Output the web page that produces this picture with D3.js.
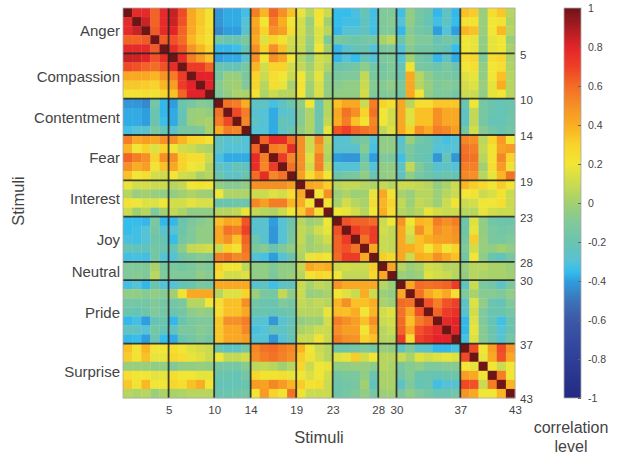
<!DOCTYPE html>
<html>
<head>
<meta charset="utf-8">
<style>
    body { margin: 0; background: #fff; }
    text { font-family: "Liberation Sans", Arial, sans-serif; fill: #444; }
    .domain { display: none; }
</style>
<script src="https://cdn.jsdelivr.net/npm/d3@7"></script>
</head>
<body>
<div id="chart"></div>
<script>
const groupNames = ['Anger', 'Compassion', 'Contentment', 'Fear', 'Interest', 'Joy', 'Neutral', 'Pride', 'Surprise'];
const groupEnds = [5, 10, 14, 19, 23, 28, 30, 37, 43];
const barTicks = [-1, -0.8, -0.6, -0.4, -0.2, 0, 0.2, 0.4, 0.6, 0.8, 1];
const colorDomain = [-1, -0.8, -0.6, -0.5, -0.4, -0.35, -0.3, -0.2, -0.1, 0, 0.1, 0.2, 0.3, 0.4, 0.5, 0.6, 0.7, 0.8, 0.9, 1];
const colorRange = ['#232a80', '#2f3f99', '#3c58a7', '#3c74b9', '#2f9ede', '#35bdec', '#56c2d6', '#6ac4ae', '#80c99a', '#a2d070', '#cbdb50', '#f1e634', '#f8d32c', '#f9ae21', '#f58f27', '#f36c26', '#ee3f26', '#e3242a', '#a81c22', '#6e1418'];

// upper triangle, correlation x 100, one row per stimulus
const corrRows = [
    [100,78,78,62,78,85,68,42,33,22,-42,-38,-38,-33,55,38,62,50,35,18,5,22,10,-35,-35,-32,-22,-33,-10,-10,-33,-5,-15,-20,-36,-25,-36,35,32,-3,25,33,5],
    [100,84,62,78,84,66,42,33,22,-42,-38,-38,-30,42,20,55,40,20,12,-3,20,0,-35,-33,-33,-24,-32,-10,-8,-30,-5,-15,-22,-33,-25,-35,22,22,-3,20,22,3],
    [100,64,78,80,62,42,32,24,-45,-40,-40,-28,45,30,50,45,25,12,0,15,5,-36,-30,-30,-24,-33,-10,-10,-36,-8,-15,-18,-40,-30,-40,38,35,-3,20,37,5],
    [100,64,66,60,38,30,22,-15,-20,-20,-12,42,15,30,22,12,10,-3,15,-10,-12,-15,-18,-16,-15,2,6,-20,-5,-10,-10,-22,-15,-20,20,18,-5,17,20,-2],
    [100,76,66,48,38,29,-36,-36,-34,-22,50,30,50,35,10,10,-5,20,0,-36,-28,-22,-20,-30,-12,-10,-30,-8,-15,-15,-20,-22,-35,20,18,-5,17,20,2],
    [100,76,55,45,35,-40,-38,-38,-28,50,20,50,42,20,5,-5,12,8,-36,-30,-35,-22,-30,-12,-10,-30,0,-15,-20,-36,-25,-38,25,28,-10,25,28,2],
    [100,72,72,62,-20,-22,-22,-14,38,12,30,30,12,8,0,12,3,-20,-18,-15,-6,-16,-15,-10,-22,22,-12,-15,-20,-12,-20,20,25,-5,20,25,3],
    [100,80,80,-14,-3,-3,-12,30,10,25,20,10,20,3,17,-5,-12,-10,-10,8,-12,-12,-10,-20,42,5,-6,-12,-12,-15,15,18,-5,20,35,5],
    [100,80,-8,-2,0,-10,28,5,25,18,2,22,0,14,-5,-8,-5,-5,10,-8,-8,-5,-12,42,5,-3,-10,-8,-10,12,15,-3,17,40,5],
    [100,-10,-4,2,2,22,3,10,5,5,20,-2,14,-5,-5,-5,-5,12,-10,-10,-8,-15,42,20,-5,-10,-10,-15,10,10,-5,17,20,5],
    [100,58,55,40,-25,-25,-32,-25,-18,-5,20,-20,5,35,42,42,10,55,30,25,42,5,25,25,33,33,33,-20,20,-14,-20,-22,-20],
    [100,68,55,-28,-30,-38,-28,-26,-8,3,-20,5,42,58,50,30,58,20,12,42,15,35,35,50,42,42,-25,8,-14,-20,-22,-20],
    [100,52,-26,-30,-38,-22,-26,-8,3,-18,8,40,55,35,22,52,20,12,42,15,35,35,50,42,42,-25,8,-14,-22,-22,-18],
    [100,-30,-30,-38,-25,-20,-5,3,-18,18,65,70,62,58,55,7,15,42,30,50,42,55,52,45,-15,12,-8,-15,-20,-15],
    [100,62,78,76,60,50,10,52,8,-28,-28,-18,-12,-30,-5,-5,-28,-2,-15,-20,-28,-32,-30,52,50,6,28,46,20],
    [100,55,52,76,50,10,45,5,-28,-28,-28,-8,-32,-5,-5,-25,-12,-20,-20,-30,-30,-30,58,55,8,22,44,46],
    [100,72,52,50,15,55,3,-40,-42,-42,-20,-40,-10,-12,-33,-14,-20,-22,-42,-22,-42,60,58,5,22,52,30],
    [100,58,50,12,55,10,-30,-30,-30,-10,-30,-5,-5,-26,8,-10,-20,-28,-26,-30,55,54,0,25,46,22],
    [100,45,25,38,20,-18,-15,-12,-5,-20,-5,-3,-24,-5,-14,-18,-22,-20,-22,52,50,5,18,38,58],
    [100,42,40,32,5,8,8,5,3,8,5,10,10,8,5,-4,2,10,38,32,28,20,32,22],
    [100,20,50,-2,3,-2,0,18,42,22,2,-3,5,5,-2,5,10,20,22,10,14,22,10],
    [100,22,2,12,5,2,25,38,28,8,-2,8,5,-2,10,22,10,12,20,20,25,10],
    [100,20,18,12,5,20,40,25,5,2,5,18,12,10,10,5,5,18,12,10,10],
    [100,66,62,62,60,10,20,48,20,38,36,55,50,55,-18,15,-5,-16,-18,-18],
    [100,72,66,72,12,8,42,15,50,35,50,45,50,-18,18,-4,-12,-16,-14],
    [100,58,72,10,8,42,10,35,40,45,45,48,-15,32,-3,-12,-14,-10],
    [100,42,10,8,42,40,35,20,35,20,30,-10,12,-3,-5,0,-5],
    [100,32,28,42,10,40,38,50,42,35,-16,20,-6,-20,-24,-14],
    [100,42,5,-2,2,12,10,5,5,-3,5,5,2,2,-2],
    [100,-2,-4,-2,15,12,10,5,-4,5,3,2,2,0],
    [100,42,60,58,60,62,72,-25,10,-12,-16,-26,-12],
    [100,58,42,35,42,25,-10,2,-8,-8,-10,-5],
    [100,66,55,66,70,-26,15,-5,-20,-22,-10],
    [100,62,72,75,-28,12,-10,-20,-20,-15],
    [100,78,80,-36,15,-10,-22,-33,-20],
    [100,80,-36,18,-8,-20,-30,-20],
    [100,-32,15,-8,-18,-28,-16],
    [100,68,20,45,68,48],
    [100,18,42,66,42],
    [100,20,10,20],
    [100,55,20],
    [100,38],
    [100]
];

const w = 618;
const h = 455;
const plot = { left: 123, right: 515, top: 8, bottom: 398 };
const n = corrRows.length;

const svg = d3.select('#chart')
    .append('svg')
    .attr('width', w)
    .attr('height', h);

const defs = svg.append('defs');

// the source picture is a little soft
defs.append('filter')
    .attr('id', 'soft')
    .attr('x', '-2%').attr('y', '-2%').attr('width', '104%').attr('height', '104%')
    .append('feGaussianBlur')
    .attr('stdDeviation', 0.45);

const color = d3.scaleLinear().domain(colorDomain).range(colorRange);
const xScale = d3.scaleLinear().domain([0, n]).range([plot.left, plot.right]);
const yScale = d3.scaleLinear().domain([0, n]).range([plot.top, plot.bottom]);

// mirror the triangle, the matrix is symmetric
const cells = [];
corrRows.forEach((row, i) => {
    row.forEach((v, k) => {
        cells.push({ i: i, j: i + k, v: v / 100 });
        if (k > 0) cells.push({ i: i + k, j: i, v: v / 100 });
    });
});

const heat = svg.append('g').attr('filter', 'url(#soft)');

heat.append('g')
    .selectAll('rect')
    .data(cells)
    .enter()
    .append('rect')
    .attr('x', d => xScale(d.j))
    .attr('y', d => yScale(d.i))
    .attr('width', d => xScale(d.j + 1) - xScale(d.j) + 0.3)
    .attr('height', d => yScale(d.i + 1) - yScale(d.i) + 0.3)
    .attr('fill', d => color(d.v));

// group separators
const seps = heat.append('g')
    .attr('stroke', '#222')
    .attr('stroke-opacity', 0.85)
    .attr('stroke-width', 1.8);

seps.selectAll('.v')
    .data(groupEnds.slice(0, -1))
    .enter()
    .append('line')
    .attr('x1', d => xScale(d))
    .attr('x2', d => xScale(d))
    .attr('y1', plot.top)
    .attr('y2', plot.bottom);

seps.selectAll('.h')
    .data(groupEnds.slice(0, -1))
    .enter()
    .append('line')
    .attr('x1', plot.left)
    .attr('x2', plot.right)
    .attr('y1', d => yScale(d))
    .attr('y2', d => yScale(d));

svg.append('rect')
    .attr('x', plot.left)
    .attr('y', plot.top)
    .attr('width', plot.right - plot.left)
    .attr('height', plot.bottom - plot.top)
    .attr('fill', 'none')
    .attr('stroke', '#aaa')
    .attr('stroke-width', 0.8);

// number axes
const xAxis = d3.axisBottom(xScale).tickValues(groupEnds).tickSize(0).tickPadding(8).tickFormat(d3.format('d'));
const yAxis = d3.axisRight(yScale).tickValues(groupEnds).tickSize(0).tickPadding(5).tickFormat(d3.format('d'));

svg.append('g')
    .attr('transform', 'translate(0,' + plot.bottom + ')')
    .call(xAxis)
    .selectAll('text')
    .style('font-size', '11.5px');

svg.append('g')
    .attr('transform', 'translate(' + plot.right + ',1)')
    .call(yAxis)
    .selectAll('text')
    .style('font-size', '11.5px');

// category labels at the middle of each group
const groupMids = groupEnds.map((d, i) => (d + (i ? groupEnds[i - 1] : 0)) / 2);
svg.append('g')
    .attr('transform', 'translate(' + (plot.left - 3) + ',0.5)')
    .call(d3.axisLeft(yScale).tickValues(groupMids).tickSize(0).tickPadding(0).tickFormat((d, i) => groupNames[i]))
    .selectAll('text')
    .style('font-size', '15px');

svg.append('text')
    .attr('transform', 'translate(24,201) rotate(-90)')
    .attr('text-anchor', 'middle')
    .style('font-size', '16.5px')
    .text('Stimuli');

svg.append('text')
    .attr('x', 319)
    .attr('y', 443)
    .attr('text-anchor', 'middle')
    .style('font-size', '16.5px')
    .text('Stimuli');

// colour bar
const barScale = d3.scaleLinear().domain([-1, 1]).range([plot.bottom, plot.top]);
const grad = defs.append('linearGradient')
    .attr('id', 'bar-grad')
    .attr('x1', 0).attr('x2', 0).attr('y1', 1).attr('y2', 0);

grad.selectAll('stop')
    .data(colorDomain)
    .enter()
    .append('stop')
    .attr('offset', d => (d + 1) / 2)
    .attr('stop-color', d => color(d));

svg.append('rect')
    .attr('x', 564)
    .attr('y', plot.top)
    .attr('width', 17)
    .attr('height', plot.bottom - plot.top)
    .attr('fill', 'url(#bar-grad)')
    .attr('stroke', '#aaa')
    .attr('stroke-width', 0.8);

const barAxis = svg.append('g')
    .attr('transform', 'translate(581,0)')
    .call(d3.axisRight(barScale).tickValues(barTicks).tickSize(-3).tickPadding(7).tickFormat(d => d));

barAxis.selectAll('line').attr('stroke', '#666');
barAxis.selectAll('text').style('font-size', '10.5px');

svg.append('text')
    .attr('x', 571)
    .attr('y', 433)
    .attr('text-anchor', 'middle')
    .style('font-size', '16px')
    .text('correlation');

svg.append('text')
    .attr('x', 571)
    .attr('y', 452)
    .attr('text-anchor', 'middle')
    .style('font-size', '16px')
    .text('level');
</script>
</body>
</html>
